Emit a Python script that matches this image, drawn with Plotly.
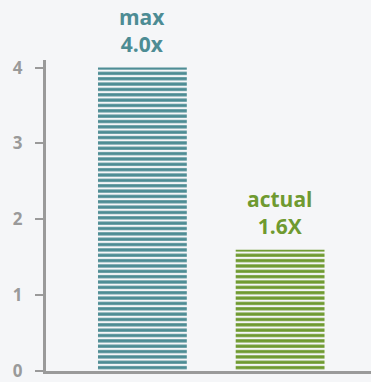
import plotly.graph_objects as go

# Speed-up factors
categories = ["max", "actual"]
values = [4.0, 1.6]
value_labels = ["4.0x", "1.6X"]
bar_colors = ["#4d8c94", "#6f9a30"]
y_ticks = [0, 1, 2, 3, 4]

BG = "#f5f6f8"
AXIS = "#9a9a9a"

fig = go.Figure()
fig.add_trace(go.Bar(
    x=categories,
    y=values,
    width=0.645,
    marker=dict(
        color=bar_colors,
        line=dict(width=0),
        pattern=dict(shape="-", fgcolor=bar_colors, bgcolor=BG,
                     size=5.35, solidity=0.6, fillmode="replace"),
    ),
    hoverinfo="skip",
))

for cat, val, lab, col in zip(categories, values, value_labels, bar_colors):
    fig.add_annotation(
        x=cat, y=val, text=f"{cat}<br>{lab}",
        showarrow=False, yanchor="bottom", yshift=8,
        font=dict(family="Open Sans", size=21, color=col, weight="bold"),
        align="center",
    )

fig.update_layout(
    width=371, height=382,
    margin=dict(l=46, r=0, t=60, b=6),
    paper_bgcolor=BG, plot_bgcolor=BG,
    showlegend=False,
    xaxis=dict(
        range=[-0.7, 1.66], showgrid=False, zeroline=False,
        showticklabels=False, ticks="",
        showline=True, linecolor=AXIS, linewidth=3,
    ),
    yaxis=dict(
        range=[0, 4.1], tickvals=y_ticks, showgrid=False, zeroline=False,
        showline=True, linecolor=AXIS, linewidth=3,
        ticks="outside", ticklen=8, tickwidth=2, tickcolor=AXIS,
        tickfont=dict(family="Open Sans", size=17, color=AXIS, weight="bold"),
        ticklabelstandoff=9, ticklabeloverflow="allow",
    ),
)

fig.write_html("out.html")
